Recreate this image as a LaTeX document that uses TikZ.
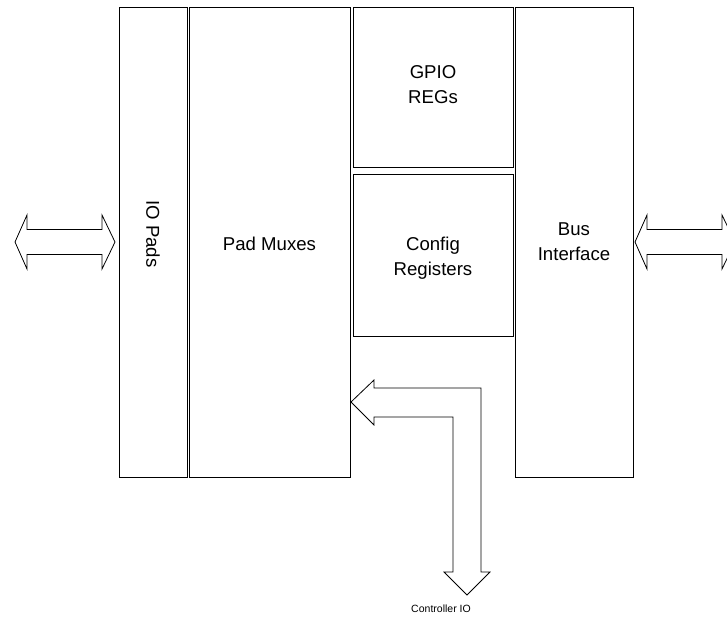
\documentclass[tikz,border=0pt]{standalone}
\usepackage{fontspec}
\setmainfont{Liberation Sans}
\begin{document}
\begin{tikzpicture}[x=1pt,y=-1pt,
  blk/.style={draw=black,line width=0.8pt,inner sep=0pt,outer sep=0pt,fill=white},
  lbl/.style={align=center,inner sep=0pt,font=\fontsize{18.6}{25}\selectfont},
  barrow/.style={draw=black,line width=0.8pt,fill=white,line join=miter}]
\useasboundingbox (0,0) rectangle (727,619);
\node[blk,minimum width=68pt,minimum height=470pt] (iopads) at (153,242) {};
\node[blk,minimum width=161pt,minimum height=470pt] (padmux) at (269.5,242) {};
\node[blk,minimum width=160pt,minimum height=160pt] (gpio) at (433,87) {};
\node[blk,minimum width=160pt,minimum height=162pt] (config) at (433,255) {};
\node[blk,minimum width=118pt,minimum height=470pt] (bus) at (574,242) {};
\node[lbl,rotate=-90] (iolbl) at (153,234) {IO Pads};
\node[lbl] (padlbl) at (269.5,244) {Pad Muxes};
\node[lbl] (gpiolbl) at (433,85) {GPIO\\REGs};
\node[lbl] (cfglbl) at (433,258) {Config\\Registers};
\node[lbl] (buslbl) at (574,242) {Bus\\Interface};
% left double block arrow
\draw[barrow] (15,242) -- (27,215) -- (27,229.5) -- (102,229.5) -- (102,215) -- (115,242)
  -- (102,269) -- (102,254.5) -- (27,254.5) -- (27,269) -- cycle;
% right double block arrow (cropped by page edge)
\draw[barrow] (635,242) -- (647,215) -- (647,229.5) -- (722,229.5) -- (722,215) -- (735,242)
  -- (722,269) -- (722,254.5) -- (647,254.5) -- (647,269) -- cycle;
% controller IO bent arrow
\draw[barrow] (351,402) -- (374,380) -- (374,388) -- (481,388) -- (481,572) -- (490,572)
  -- (467,595) -- (444,572) -- (453,572) -- (453,417) -- (374,417) -- (374,425) -- cycle;
\node[font=\fontsize{10.5}{12}\selectfont] (ctrl) at (441,609) {Controller IO};
\end{tikzpicture}
\end{document}
